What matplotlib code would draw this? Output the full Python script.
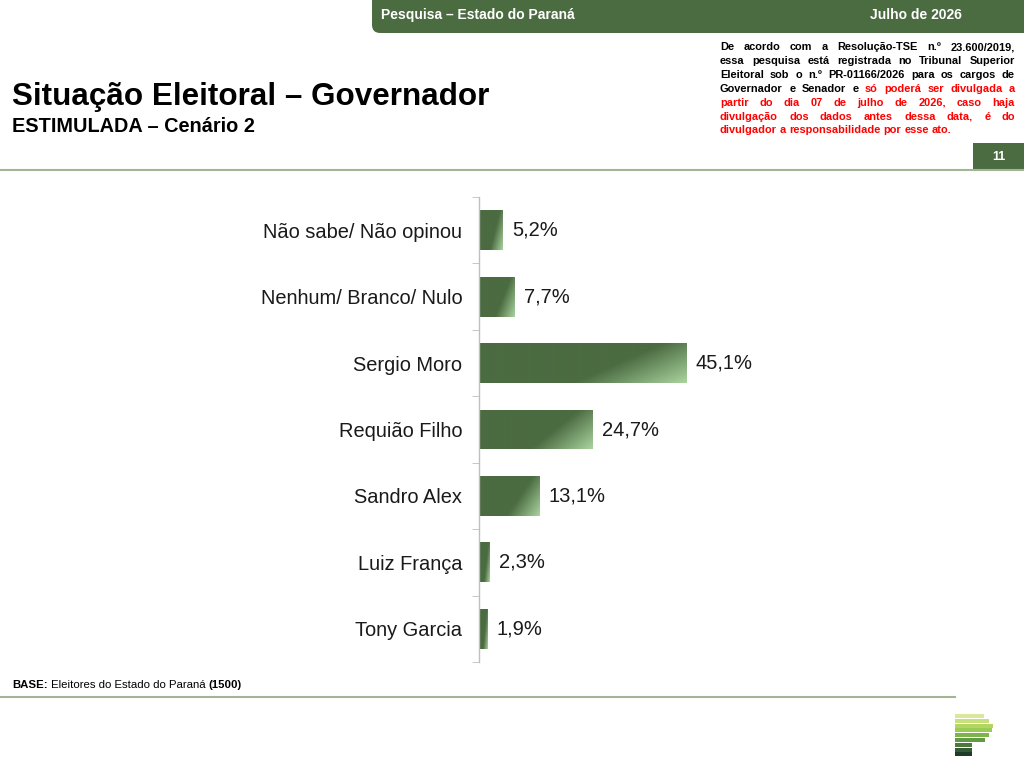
import numpy as np
import matplotlib
matplotlib.use("Agg")
import matplotlib.pyplot as plt
from matplotlib import font_manager
from matplotlib.patches import Rectangle, FancyBboxPatch
from matplotlib.colors import LinearSegmentedColormap

plt.rcParams['font.family'] = ['Liberation Sans', 'DejaVu Sans']
nomes = {f.name for f in font_manager.fontManager.ttflist}
estreita = 'Liberation Sans Narrow' if 'Liberation Sans Narrow' in nomes else 'Liberation Sans'

# data
categorias = ["Não sabe/ Não opinou", "Nenhum/ Branco/ Nulo", "Sergio Moro",
              "Requião Filho", "Sandro Alex", "Luiz França", "Tony Garcia"]
valores = [5.2, 7.7, 45.1, 24.7, 13.1, 2.3, 1.9]
rotulos = ["5,2%", "7,7%", "45,1%", "24,7%", "13,1%", "2,3%", "1,9%"]

verde = "#4b6b41"
verde_claro = "#a9d39e"
W, H = 1024, 768

fig = plt.figure(figsize=(W / 100, H / 100), dpi=100)


def fx(px):
    return px / W


def fy(py):
    return 1 - py / H


# ---- chart ----
ax = fig.add_axes([fx(479), fy(662), fx(940 - 479), fy(197) - fy(662)])
y = np.arange(len(categorias))
bars = ax.barh(y, valores, height=0.6, color=verde, edgecolor="none")

# gradient: mostly dark, lighter toward bottom-right corner
cmap = LinearSegmentedColormap.from_list("g", [(0, verde), (0.62, verde), (1, verde_claro)])
uu, vv = np.meshgrid(np.linspace(0, 1, 200), np.linspace(0, 1, 50))
grad = uu * 0.7 + vv * 0.3
for b in bars:
    x0, y0 = b.get_x(), b.get_y()
    w, h = b.get_width(), b.get_height()
    im = ax.imshow(grad, cmap=cmap, vmin=0, vmax=1, aspect="auto",
                   extent=[x0, x0 + w, y0 + h, y0], origin="upper",
                   interpolation="bilinear", zorder=2)
    im.set_clip_path(b)

for b, lab in zip(bars, rotulos):
    ax.annotate(lab, (b.get_width(), b.get_y() + b.get_height() / 2),
                xytext=(6.5, 0), textcoords="offset points",
                va="center", ha="left", fontsize=14.5, color="#1a1a1a")

ax.set_xlim(0, 100)
ax.set_ylim(len(categorias) - 0.5, -0.5)
ax.set_yticks(y)
ax.set_yticklabels(categorias, fontsize=14.4, color="#1a1a1a")
ax.set_yticks(np.arange(-0.5, len(categorias)), minor=True)
ax.tick_params(axis="y", which="major", length=0, pad=12)
ax.tick_params(axis="y", which="minor", length=5, direction="out", color="#bfbfbf")
ax.set_xticks([])
for s in ["top", "right", "bottom"]:
    ax.spines[s].set_visible(False)
ax.spines["left"].set_color("#bfbfbf")
ax.spines["left"].set_linewidth(1)
ax.patch.set_alpha(0)

# ---- page decorations ----
fig.patches.append(FancyBboxPatch((fx(372), fy(33)), fx(1100 - 372), fy(-20) - fy(33),
                                  boxstyle="round,pad=0,rounding_size=0.008",
                                  transform=fig.transFigure, facecolor=verde,
                                  edgecolor="none", mutation_aspect=W / H))
fig.text(fx(381), fy(15), "Pesquisa – Estado do Paraná", color="white", fontsize=10,
         fontweight="bold", va="center", ha="left")
fig.text(fx(962), fy(15), "Julho de 2026", color="white", fontsize=10,
         fontweight="bold", va="center", ha="right")

fig.text(fx(12), fy(97), "Situação Eleitoral – Governador", fontsize=22.6,
         fontweight="bold", va="center", ha="left", color="black")
fig.text(fx(12), fy(127), "ESTIMULADA – Cenário 2", fontsize=14.3,
         fontweight="bold", va="center", ha="left", color="black")

fig.add_artist(plt.Line2D([0, 1], [fy(170), fy(170)], transform=fig.transFigure,
                          color="#a3b596", lw=1.5))
fig.add_artist(plt.Line2D([0, fx(955)], [fy(697), fy(697)], transform=fig.transFigure,
                          color="#a3b596", lw=1.5))
fig.patches.append(Rectangle((fx(973), fy(170)), fx(60), fy(143) - fy(170),
                             transform=fig.transFigure, facecolor=verde, edgecolor="none"))
fig.text(fx(999), fy(157), "11", color="white", fontsize=9, fontweight="bold",
         va="center", ha="center")

# justified disclaimer
renderer = fig.canvas.get_renderer()
linhas = [
    [("De acordo com a Resolução-TSE n.º 23.600/2019,", "black")],
    [("essa pesquisa está registrada no Tribunal Superior", "black")],
    [("Eleitoral sob o n.º PR-01166/2026 para os cargos de", "black")],
    [("Governador e Senador e", "black"), ("só poderá ser divulgada a", "#ff0000")],
    [("partir do dia 07 de julho de 2026, caso haja", "#ff0000")],
    [("divulgação dos dados antes dessa data, é do", "#ff0000")],
    [("divulgador a responsabilidade por esse ato.", "#ff0000")],
]
tam_aviso = 8.4 if estreita != 'Liberation Sans' else 7.9
x_esq, x_dir = 720, 1015
for i, linha in enumerate(linhas):
    ypos = fy(50 + i * 13.9)
    palavras = [(w, c) for frase, c in linha for w in frase.split()]
    objs = [fig.text(0, ypos, w, color=c, fontsize=tam_aviso, fontweight="bold",
                     family=[estreita, 'DejaVu Sans'],
                     va="baseline", ha="left") for w, c in palavras]
    larg = [t.get_window_extent(renderer).width for t in objs]
    if i == len(linhas) - 1:
        gap = 3.0
    else:
        gap = (x_dir - x_esq - sum(larg)) / (len(objs) - 1)
    xp = x_esq
    for t, wd in zip(objs, larg):
        t.set_x(fx(xp))
        xp += wd + gap

# base note
partes = [("BASE:", "bold"), (" Eleitores do Estado do Paraná ", "normal"), ("(1500)", "bold")]
xp = 12
for txt, peso in partes:
    t = fig.text(fx(xp), fy(688), txt, fontsize=8.2, fontweight=peso, va="baseline",
                 ha="left", color="black")
    xp += t.get_window_extent(renderer).width

# logo
logo_larg = [29, 34, 38, 37, 34, 30, 17, 17, 17]
logo_cores = ["#dbe89a", "#c8e07c", "#b2d662", "#9bcb52", "#7fb44a", "#609a42",
              "#4a7a3c", "#365a36", "#1e3c26"]
for k, (lw_, c) in enumerate(zip(logo_larg, logo_cores)):
    top = 714 + k * 4.8
    fig.patches.append(Rectangle((fx(955), fy(top + 4)), fx(lw_), fy(top) - fy(top + 4),
                                 transform=fig.transFigure, facecolor=c, edgecolor="none"))

fig.savefig("out.png", dpi=100, facecolor="white")
